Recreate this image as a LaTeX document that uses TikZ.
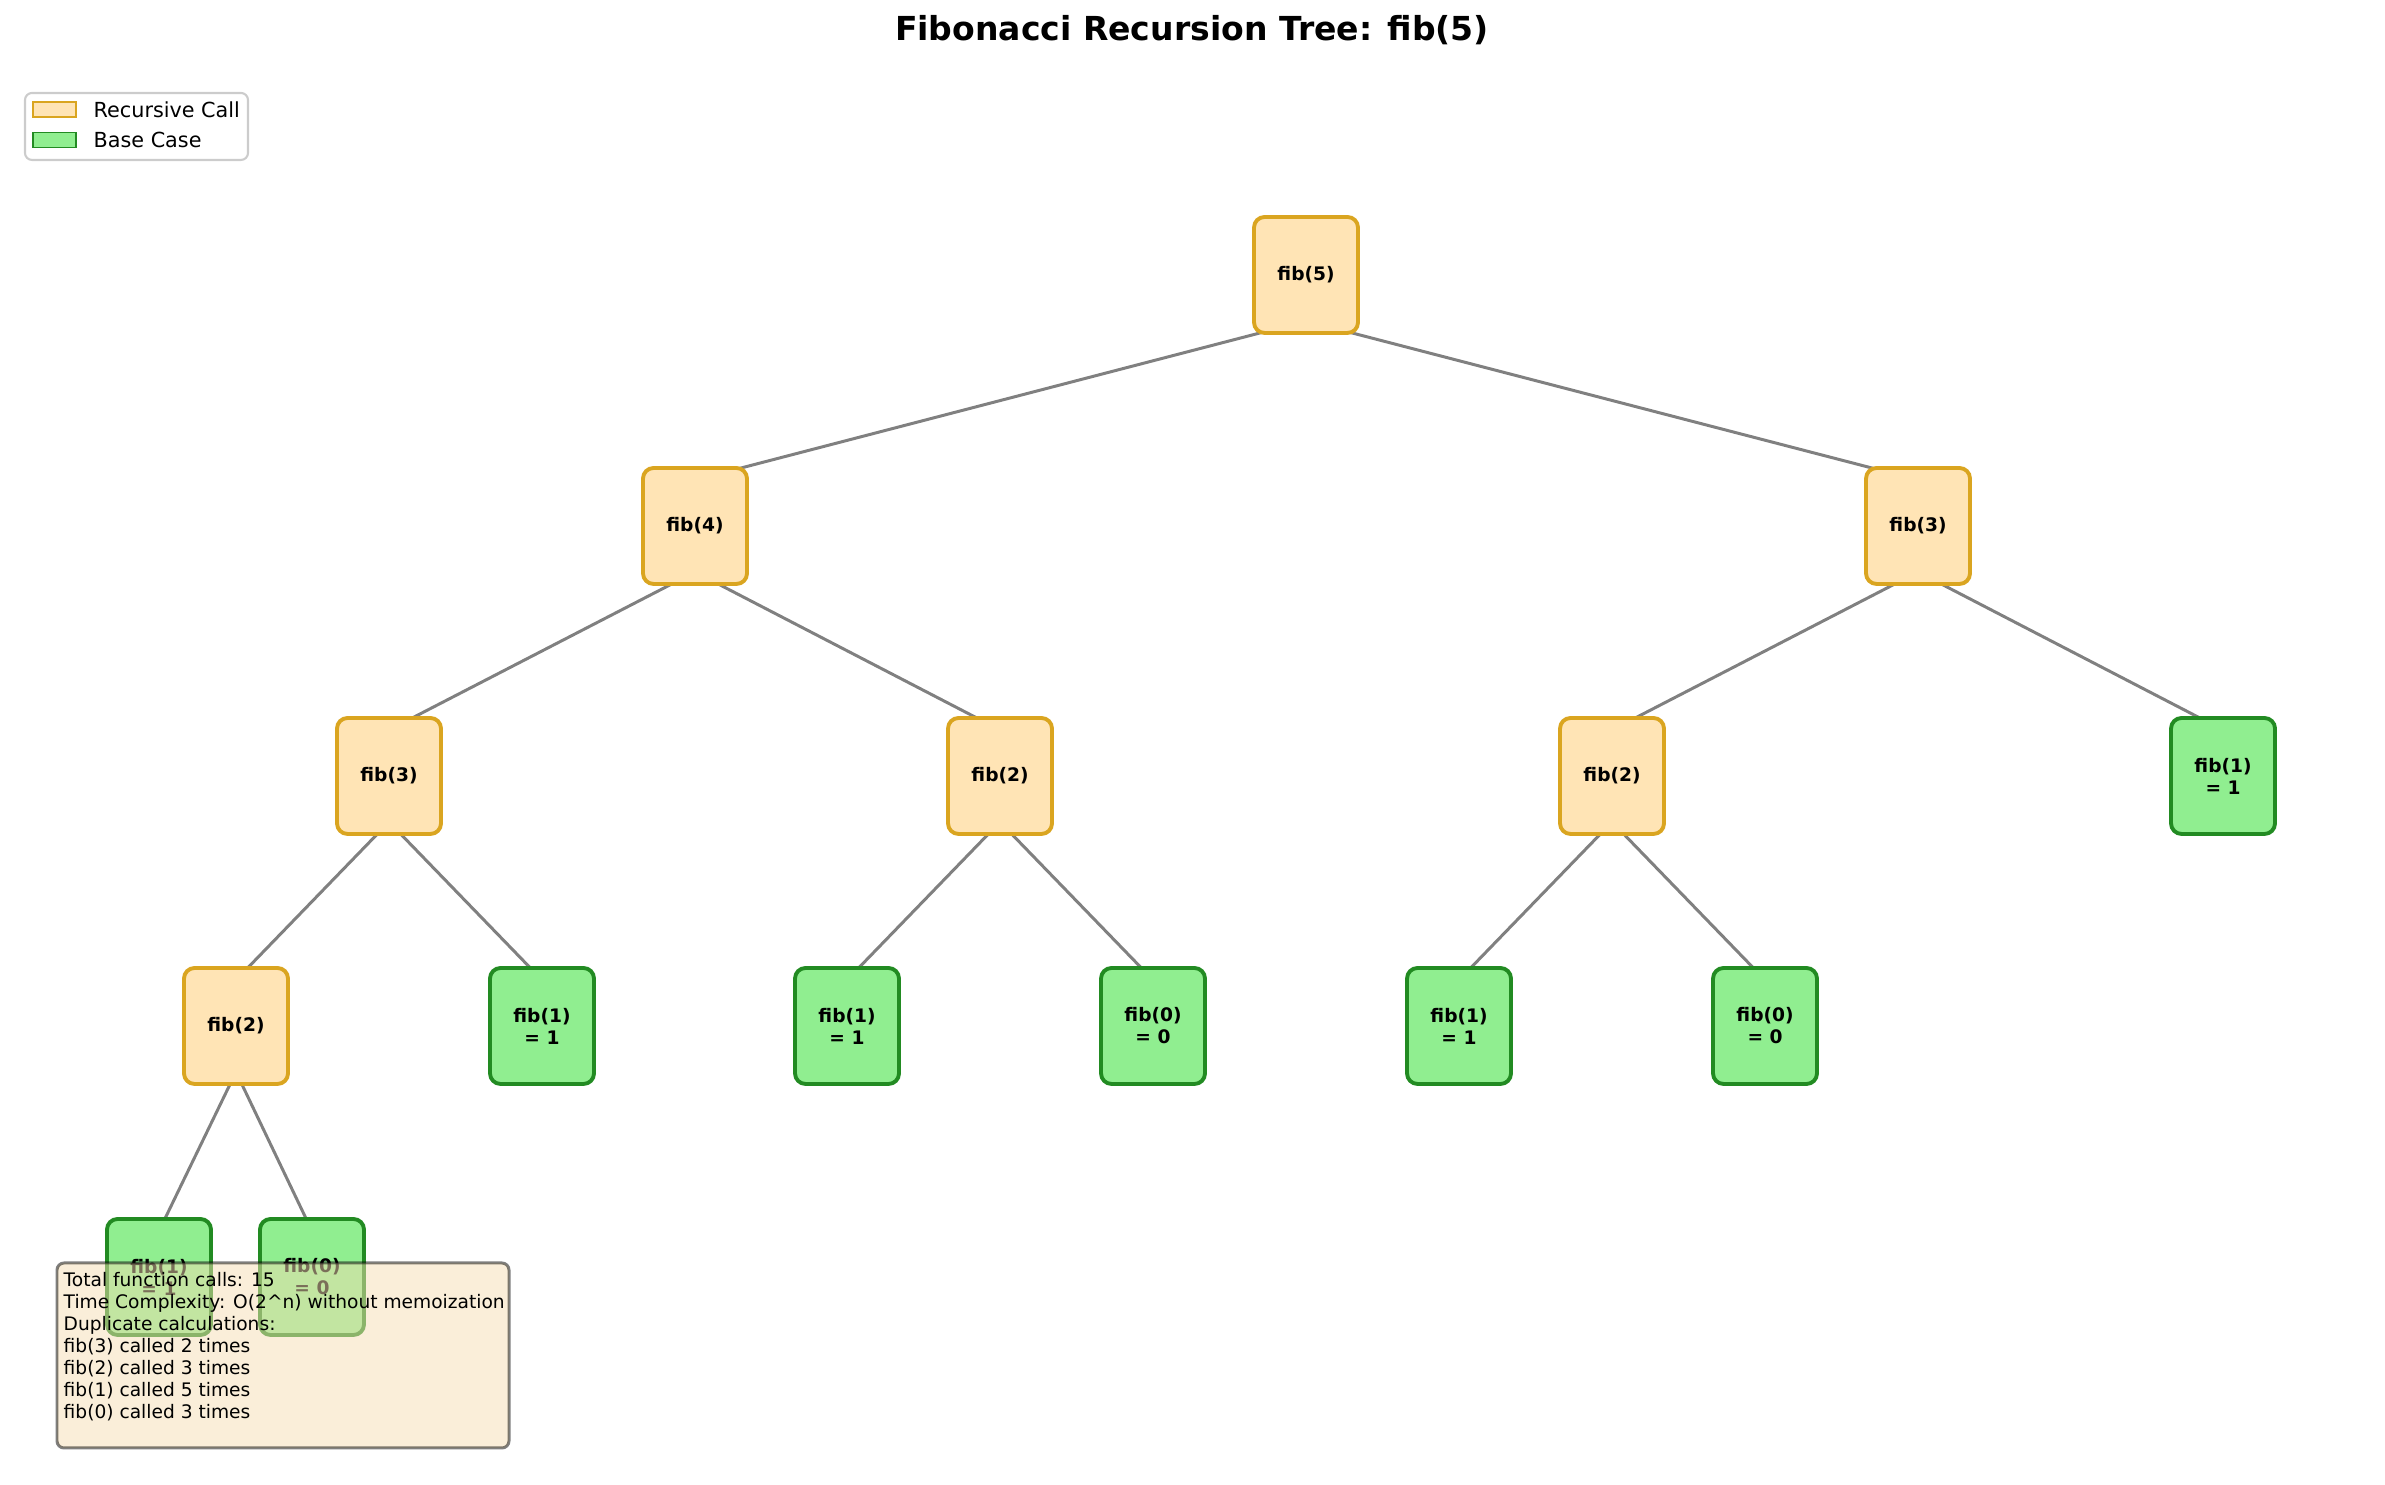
\documentclass[tikz,border=0pt]{standalone}
\usepackage{fontspec}
\setmainfont{DejaVu Sans}
\usetikzlibrary{calc,backgrounds}
\definecolor{callfill}{RGB}{255,228,181}
\definecolor{calldraw}{RGB}{218,165,32}
\definecolor{basefill}{RGB}{144,238,144}
\definecolor{basedraw}{RGB}{34,139,34}
\definecolor{wheat}{RGB}{245,222,179}
\tikzset{
    callbox/.style={draw=calldraw, fill=callfill, line width=1.1pt, rounded corners=3pt,
        minimum width=1.04cm, minimum height=1.16cm, inner sep=0pt, align=center,
        font=\fontsize{5.3}{6.26}\selectfont\bfseries},
    basebox/.style={callbox, draw=basedraw, fill=basefill},
    treeline/.style={draw=gray, line width=0.85pt},
}
\newcommand{\link}[2]{\draw[treeline] ($(#1)+(0,-0.46)$) -- ($(#2)+(0,0.46)$);}
\begin{document}
\begin{tikzpicture}
    \useasboundingbox (0,0) rectangle (23.85,14.85);
    \node[font=\fontsize{9.4}{11}\selectfont\bfseries] (title) at (11.92,14.55) {Fibonacci Recursion Tree: fib(5)};
    % legend
    \draw[draw=gray!40, fill=white, rounded corners=2pt, line width=0.6pt] (0.25,13.25) rectangle (2.48,13.92);
    \draw[draw=calldraw, fill=callfill, line width=0.45pt] (0.33,13.68) rectangle (0.76,13.83);
    \draw[draw=basedraw, fill=basefill, line width=0.45pt] (0.33,13.375) rectangle (0.76,13.525);
    \node[anchor=west, inner sep=0pt, font=\fontsize{5.9}{7}\selectfont] (lcall) at (0.93,13.755) {Recursive Call};
    \node[anchor=west, inner sep=0pt, font=\fontsize{5.9}{7}\selectfont] (lbase) at (0.93,13.45) {Base Case};
    % tree
    \node[callbox] (f5) at (13.06,12.10) {fib(5)};
    \node[callbox] (f4) at (6.95,9.59) {fib(4)};
    \node[callbox] (f3r) at (19.18,9.59) {fib(3)};
    \node[callbox] (f3l) at (3.89,7.09) {fib(3)};
    \node[callbox] (f2m) at (10.00,7.09) {fib(2)};
    \node[callbox] (f2r) at (16.12,7.09) {fib(2)};
    \node[basebox] (f1r) at (22.23,7.09) {fib(1)\\= 1};
    \node[callbox] (f2l) at (2.36,4.59) {fib(2)};
    \node[basebox] (f1a) at (5.42,4.59) {fib(1)\\= 1};
    \node[basebox] (f1b) at (8.47,4.59) {fib(1)\\= 1};
    \node[basebox] (f0a) at (11.53,4.59) {fib(0)\\= 0};
    \node[basebox] (f1c) at (14.59,4.59) {fib(1)\\= 1};
    \node[basebox] (f0b) at (17.65,4.59) {fib(0)\\= 0};
    \node[basebox] (f1d) at (1.59,2.08) {fib(1)\\= 1};
    \node[basebox] (f0c) at (3.12,2.08) {fib(0)\\= 0};
    \begin{scope}[on background layer]
        \link{f5}{f4} \link{f5}{f3r}
        \link{f4}{f3l} \link{f4}{f2m}
        \link{f3r}{f2r} \link{f3r}{f1r}
        \link{f3l}{f2l} \link{f3l}{f1a}
        \link{f2m}{f1b} \link{f2m}{f0a}
        \link{f2r}{f1c} \link{f2r}{f0b}
        \link{f2l}{f1d} \link{f2l}{f0c}
    \end{scope}
    % summary box
    \draw[fill=wheat, draw=black, opacity=0.5, rounded corners=2pt, line width=0.85pt] (0.57,0.37) rectangle (5.09,2.22);
    \node[anchor=north west, inner sep=0pt, align=left, font=\fontsize{5.3}{6.26}\selectfont] (info) at (0.63,2.134)
        {Total function calls: 15\\Time Complexity: O(2\textasciicircum n) without memoization\\Duplicate calculations:\\fib(3) called 2 times\\fib(2) called 3 times\\fib(1) called 5 times\\fib(0) called 3 times};
\end{tikzpicture}
\end{document}
